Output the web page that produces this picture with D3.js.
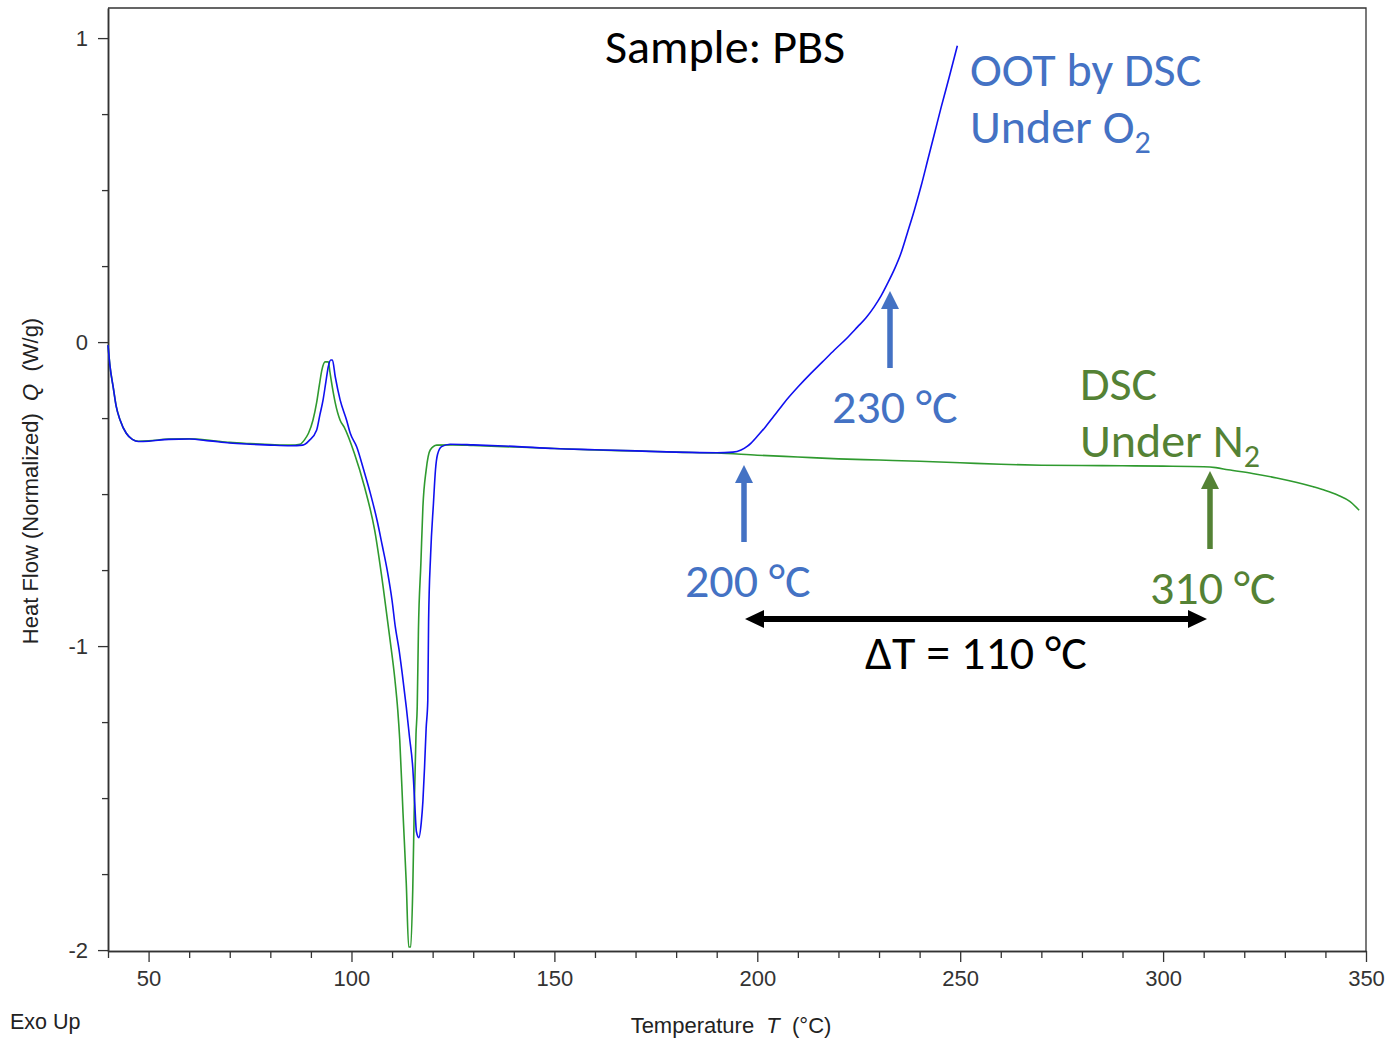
<!DOCTYPE html>
<html>
<head>
<meta charset="utf-8">
<script src="https://cdn.jsdelivr.net/npm/d3@7/dist/d3.min.js"></script>
<style>
  html, body { margin: 0; padding: 0; background: #fff; }
  svg { display: block; }
</style>
</head>
<body>
<svg id="chart" width="1389" height="1043"></svg>
<script>
// ---- Data ----
const xTickValues = [50, 100, 150, 200, 250, 300, 350];
const yTickValues = [-2, -1, 0, 1];

// DSC under N2 (green): [Temperature °C, Heat Flow W/g]
const n2Data = [
  [40,-0.01],[40.5,-0.08],[41.3,-0.15],[42,-0.21],[43,-0.257],[44.5,-0.30],[46,-0.32],[47.5,-0.326],
  [50,-0.325],[55,-0.319],[60,-0.318],[65,-0.323],[70,-0.330],[75,-0.334],[80,-0.337],[85,-0.339],
  [87.3,-0.336],[88.5,-0.32],[89.4,-0.30],[90.5,-0.257],[91.4,-0.20],[92.1,-0.14],[92.7,-0.092],
  [93.5,-0.065],[94.3,-0.065],[94.7,-0.10],[95.3,-0.15],[96,-0.20],[97.2,-0.257],[98.2,-0.28],
  [100.7,-0.366],[103.2,-0.476],[105.7,-0.618],[107.8,-0.805],[109.4,-0.969],[110.7,-1.11],
  [111.4,-1.21],[111.9,-1.31],[112.7,-1.55],[113.5,-1.78],[114.1,-1.99],[114.6,-1.99],[115.1,-1.80],
  [115.5,-1.51],[115.9,-1.29],[116.2,-1.20],[116.5,-0.947],[117.1,-0.728],[117.6,-0.542],
  [118.4,-0.421],[119.4,-0.355],[121,-0.339],[125,-0.338],[130,-0.340],[140,-0.345],[150,-0.350],
  [160,-0.355],[170,-0.358],[180,-0.362],[190,-0.365],[200,-0.372],[210,-0.378],[220,-0.384],
  [230,-0.388],[240,-0.392],[250,-0.397],[260,-0.402],[270,-0.405],[280,-0.406],[290,-0.407],
  [300,-0.408],[310,-0.410],[313,-0.413],[316,-0.42],[322,-0.432],[328,-0.447],[333,-0.462],
  [337,-0.476],[340,-0.488],[343,-0.503],[346,-0.524],[348.3,-0.553]
];

// OOT under O2 (blue): [Temperature °C, Heat Flow W/g]
const o2Data = [
  [40,-0.01],[40.5,-0.08],[41.3,-0.15],[42,-0.21],[43,-0.257],[44.5,-0.30],[46,-0.32],[47.5,-0.327],
  [50,-0.326],[55,-0.320],[60,-0.319],[65,-0.325],[70,-0.332],[75,-0.336],[80,-0.339],[85,-0.341],
  [88,-0.339],[89.5,-0.325],[91.4,-0.29],[92.2,-0.24],[93,-0.19],[93.7,-0.13],[94.3,-0.08],
  [94.9,-0.059],[95.3,-0.059],[96,-0.114],[97.2,-0.19],[98.8,-0.257],[99.7,-0.30],[101.3,-0.345],
  [103,-0.42],[104.7,-0.50],[106.3,-0.586],[107.6,-0.67],[108.8,-0.75],[110,-0.85],[110.8,-0.937],
  [111.7,-1.01],[112.5,-1.09],[113.5,-1.20],[114.3,-1.30],[115.1,-1.40],[115.6,-1.52],[116,-1.61],
  [116.6,-1.63],[117.2,-1.58],[117.6,-1.51],[118,-1.40],[118.4,-1.27],[118.8,-1.18],[119,-0.92],
  [119.5,-0.70],[120.2,-0.53],[120.7,-0.42],[121.2,-0.37],[122.2,-0.344],[124.3,-0.336],
  [130,-0.338],[140,-0.343],[150,-0.350],[160,-0.354],[170,-0.358],[180,-0.362],[190,-0.364],
  [194,-0.362],[196,-0.355],[197.5,-0.343],[198.4,-0.333],[200,-0.31],[202,-0.279],[204,-0.245],
  [206.6,-0.20],[210,-0.148],[213.2,-0.103],[216,-0.066],[219,-0.026],[222,0.012],[224.7,0.05],
  [226.8,0.08],[228.8,0.116],[230.5,0.152],[232.1,0.193],[233.8,0.24],[235.4,0.292],[237,0.36],
  [238.7,0.434],[240.4,0.515],[242,0.599],[243.7,0.688],[245.3,0.772],[247.3,0.872],[249.3,0.975]
];

// ---- Layout ----
const svg = d3.select("#chart");
const plot = { left: 108, right: 1366, top: 8, bottom: 951 };

const x = d3.scaleLinear().domain([40, 350]).range([plot.left, plot.right]);
const y = d3.scaleLinear().domain([-2.003, 1.099]).range([plot.bottom, plot.top]);

const axisColor = "#333";
const tickFont = "'Liberation Sans', Arial, sans-serif";

// frame (top and right)
svg.append("path")
  .attr("d", `M${plot.left},${plot.top}H${plot.right}V${plot.bottom}`)
  .attr("fill", "none").attr("stroke", axisColor).attr("stroke-width", 1.3);

// minor ticks
const xMinor = d3.range(40, 351, 10).filter(v => v % 50 !== 0);
const yMinor = d3.range(-2, 1.01, 0.25).filter(v => Math.abs(v - Math.round(v)) > 1e-6);

const gx = svg.append("g").attr("transform", `translate(0,${plot.bottom})`);
gx.call(d3.axisBottom(x).tickValues(xMinor).tickSize(7).tickFormat("").tickSizeOuter(0));
const gx2 = svg.append("g").attr("transform", `translate(0,${plot.bottom})`);
gx2.call(d3.axisBottom(x).tickValues(xTickValues).tickSize(11).tickPadding(8).tickSizeOuter(0));

const gy = svg.append("g").attr("transform", `translate(${plot.left},0)`);
gy.call(d3.axisLeft(y).tickValues(yMinor).tickSize(6).tickFormat("").tickSizeOuter(0));
const gy2 = svg.append("g").attr("transform", `translate(${plot.left},0)`);
gy2.call(d3.axisLeft(y).tickValues(yTickValues).tickSize(10).tickPadding(10).tickSizeOuter(0)
  .tickFormat(d3.format("d")));

[gx, gx2, gy, gy2].forEach(g => {
  g.selectAll("path.domain").attr("stroke", axisColor).attr("stroke-width", 1.5);
  g.selectAll(".tick line").attr("stroke", axisColor).attr("stroke-width", 1.3);
  g.selectAll(".tick text").attr("fill", "#333").style("font-family", tickFont).style("font-size", "22px");
});
gy2.selectAll(".tick text").text(d => d < 0 ? "-" + Math.abs(d) : d);

// axis titles
svg.append("text")
  .attr("x", 10).attr("y", 1029)
  .style("font-family", tickFont).style("font-size", "21.5px").attr("fill", "#222")
  .text("Exo Up");

const xt = svg.append("text")
  .attr("x", 731).attr("y", 1033).attr("text-anchor", "middle")
  .style("font-family", tickFont).style("font-size", "22px").attr("fill", "#222")
  .attr("xml:space", "preserve");
xt.append("tspan").text("Temperature  ");
xt.append("tspan").style("font-style", "italic").text("T");
xt.append("tspan").text("  (°C)");

const yt = svg.append("text")
  .attr("transform", `translate(38,481) rotate(-90)`).attr("text-anchor", "middle")
  .style("font-family", tickFont).style("font-size", "22px").attr("fill", "#222")
  .attr("xml:space", "preserve");
yt.append("tspan").text("Heat Flow (Normalized)  ");
yt.append("tspan").style("font-style", "italic").text("Q");
yt.append("tspan").text("  (W/g)");

// curves
const line = d3.line().x(d => x(d[0])).y(d => y(d[1])).curve(d3.curveMonotoneX);
svg.append("path").datum(n2Data).attr("d", line)
  .attr("fill", "none").attr("stroke", "#2f9a2f").attr("stroke-width", 1.6);
svg.append("path").datum(o2Data).attr("d", line)
  .attr("fill", "none").attr("stroke", "#1010f0").attr("stroke-width", 1.6);

// annotations
const annFont = "Carlito, Calibri, Lato, sans-serif";
const blue = "#4472C4", green = "#548235";
function label(xp, yp, txt, color, sub) {
  const t = svg.append("text").attr("x", xp).attr("y", yp)
    .style("font-family", annFont).style("font-size", "48px").attr("fill", color);
  t.append("tspan").text(txt);
  if (sub) t.append("tspan").attr("dy", 10).style("font-size", "32px").text(sub);
  return t;
}
label(605, 63, "Sample: PBS", "#000");
label(970, 86, "OOT by DSC", blue);
label(970, 143, "Under O", blue, "2");
label(832, 423, "230 °C", blue);
label(685, 597, "200 °C", blue);
label(1080, 400, "DSC", green);
label(1080, 457, "Under N", green, "2");
label(1150, 604, "310 °C", green);
label(865, 669, "ΔT = 110 °C", "#000");

function upArrow(xc, tipY, bottomY, color, shaftW) {
  const headH = 18, headW = 9;
  svg.append("path")
    .attr("d", `M${xc - shaftW/2},${bottomY}V${tipY + headH}H${xc - headW}L${xc},${tipY}L${xc + headW},${tipY + headH}H${xc + shaftW/2}V${bottomY}Z`)
    .attr("fill", color);
}
upArrow(744, 465, 542, blue, 5.5);
upArrow(890, 291, 368, blue, 5.5);
upArrow(1210, 471, 549, green, 5.5);

// double-headed arrow for ΔT
(function() {
  const yA = 619, x1 = 745, x2 = 1207, hl = 19, hw = 9, sw = 3;
  svg.append("path")
    .attr("d", `M${x1},${yA}L${x1 + hl},${yA - hw}V${yA - sw}H${x2 - hl}V${yA - hw}L${x2},${yA}L${x2 - hl},${yA + hw}V${yA + sw}H${x1 + hl}V${yA + hw}Z`)
    .attr("fill", "#000");
})();
</script>
</body>
</html>
